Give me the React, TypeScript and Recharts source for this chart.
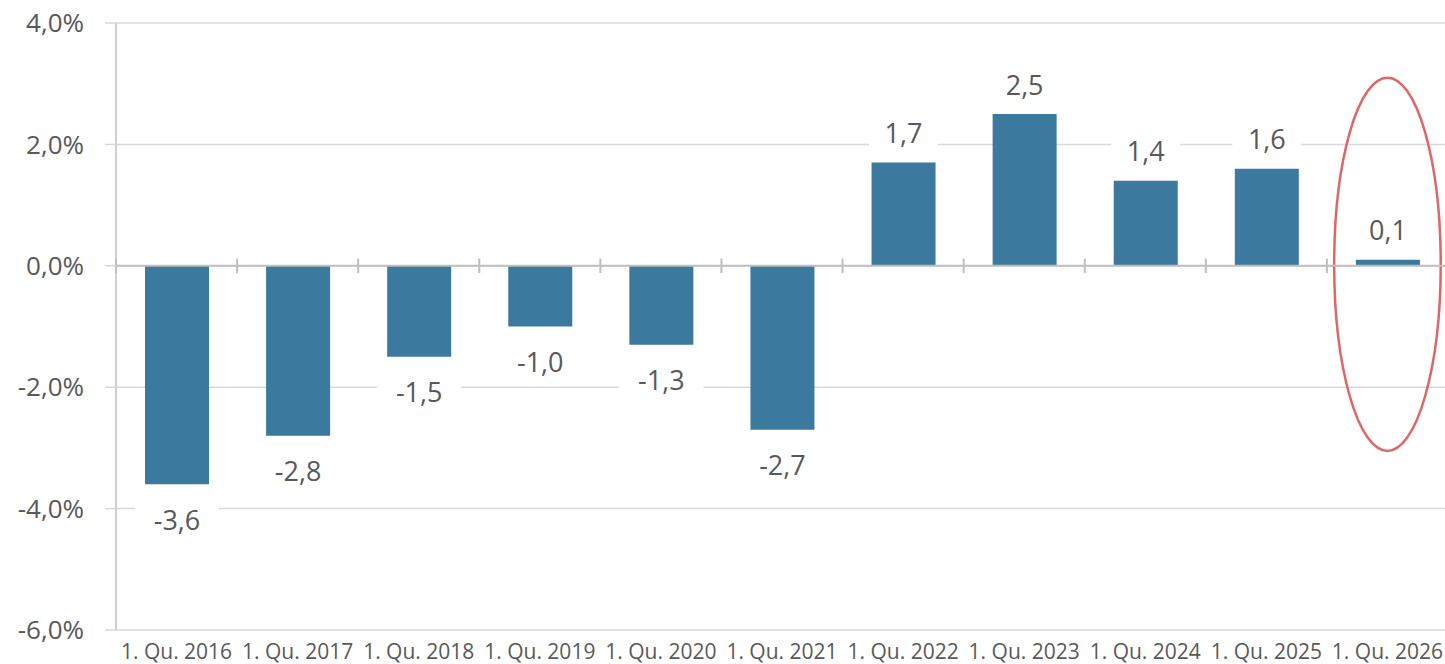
import React from "react";
import {
  BarChart,
  Bar,
  XAxis,
  YAxis,
  CartesianGrid,
  ReferenceLine,
  ReferenceArea,
  LabelList,
} from "recharts";

const CATEGORIES = [
  "1. Qu. 2016",
  "1. Qu. 2017",
  "1. Qu. 2018",
  "1. Qu. 2019",
  "1. Qu. 2020",
  "1. Qu. 2021",
  "1. Qu. 2022",
  "1. Qu. 2023",
  "1. Qu. 2024",
  "1. Qu. 2025",
  "1. Qu. 2026",
];
const VALUES = [-3.6, -2.8, -1.5, -1.0, -1.3, -2.7, 1.7, 2.5, 1.4, 1.6, 0.1];
const Y_TICKS = [-6, -4, -2, 0, 2, 4];
const HIGHLIGHT = "1. Qu. 2026";

const FONT = "'Open Sans', sans-serif";
const TEXT = "#595959";
const BAR = "#3b7a9e";

const data = CATEGORIES.map((name, i) => ({ name, value: VALUES[i] }));

const fmt = (v: number) => v.toFixed(1).replace(".", ",");

// value label with a white box behind it, above positive bars, below negative ones
const ValueLabel = (props: any) => {
  const { x, y, width, height, value } = props;
  const top = Math.min(y, y + height);
  const bottom = Math.max(y, y + height);
  const cx = x + width / 2;
  const cy = value >= 0 ? top - 30 : bottom + 35;
  const text = fmt(value);
  const w = text.length * 15 + 24;
  return (
    <g>
      <rect x={cx - w / 2} y={cy - 17} width={w} height={34} fill="#fff" />
      <text
        x={cx}
        y={cy}
        textAnchor="middle"
        dominantBaseline="central"
        fontFamily={FONT}
        fontSize={27}
        fill={TEXT}
      >
        {text}
      </text>
    </g>
  );
};

const Ellipse = (props: any) => {
  const { x, y, width, height } = props;
  return (
    <ellipse
      cx={x + width / 2}
      cy={y + height / 2}
      rx={width * 0.44}
      ry={Math.abs(height) / 2}
      fill="none"
      stroke="#e06666"
      strokeWidth={2.5}
    />
  );
};

export default function App() {
  return (
    <div
      style={{
        position: "absolute",
        left: 0,
        top: 0,
        width: 1445,
        height: 664,
        overflow: "hidden",
        background: "#fff",
      }}
    >
      <BarChart
        width={1448}
        height={664}
        data={data}
        margin={{ top: 23, right: 0, bottom: 0, left: 0 }}
        barSize={64}
      >
        <CartesianGrid vertical={false} stroke="#d9d9d9" strokeWidth={1.5} />
        <YAxis
          domain={[-6, 4]}
          ticks={Y_TICKS}
          width={116}
          tickFormatter={(v: number) => fmt(v) + "%"}
          axisLine={{ stroke: "#bfbfbf", strokeWidth: 1.5 }}
          tickLine={{ stroke: "#d9d9d9", strokeWidth: 1.5 }}
          tickSize={11}
          tickMargin={21}
          tick={{ fontFamily: FONT, fontSize: 26, fill: TEXT }}
        />
        <XAxis
          dataKey="name"
          height={34}
          interval={0}
          axisLine={false}
          tickLine={false}
          tickSize={0}
          tickMargin={14}
          tick={{ fontFamily: FONT, fontSize: 21, fill: TEXT }}
        />
        <ReferenceLine y={0} stroke="#bfbfbf" strokeWidth={2} />
        {CATEGORIES.map((c) => (
          <ReferenceLine
            key={c}
            position="start"
            segment={[
              { x: c, y: -0.12 },
              { x: c, y: 0.12 },
            ]}
            stroke="#bfbfbf"
            strokeWidth={2}
          />
        ))}
        <Bar dataKey="value" fill={BAR} isAnimationActive={false}>
          <LabelList dataKey="value" content={ValueLabel} />
        </Bar>
        <ReferenceArea
          x1={HIGHLIGHT}
          x2={HIGHLIGHT}
          y1={-3.05}
          y2={3.1}
          ifOverflow="visible"
          shape={Ellipse}
        />
      </BarChart>
    </div>
  );
}
